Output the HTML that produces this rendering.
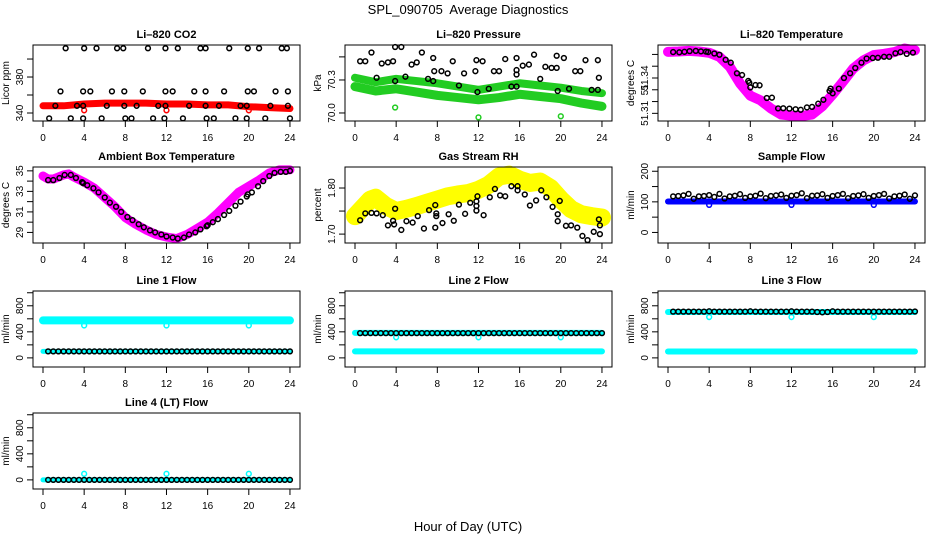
<!DOCTYPE html>
<html><head><meta charset="utf-8"><style>
html,body{margin:0;padding:0;background:#fff;}
svg text{font-family:"Liberation Sans",sans-serif;}
</style></head><body>
<svg id="chart" xmlns="http://www.w3.org/2000/svg" width="936" height="540" viewBox="0 0 936 540">
<rect x="0" y="0" width="936" height="540" fill="#fff"/>
<text x="468" y="14" font-size="13" text-anchor="middle">SPL_090705&#160; Average Diagnostics</text>
<text x="468" y="531" font-size="13" text-anchor="middle">Hour of Day (UTC)</text>
</svg>
<script>
// ---------- data ----------
const xTicks=[0,4,8,12,16,20,24];
const HRS=[0.5,1,1.5,2,2.5,3,3.5,4,4.5,5,5.5,6,6.5,7,7.5,8,8.5,9,9.5,10,10.5,11,11.5,12,12.5,13,13.5,14,14.5,15,15.5,16,16.5,17,17.5,18,18.5,19,19.5,20,20.5,21,21.5,22,22.5,23,23.5,24];
const OUT_H=[4,12,20];

const co2BandH=[0,2,4,6,8,10,12,14,16,18,20,22,24];
const co2BandV=[348,348,350,351,351,351,350,350,349,349,347,346,345];
const co2PtH=[2.2,4.0,5.2,7.2,7.8,10.2,11.9,13.1,15.3,15.8,18.1,19.9,21.0,23.2,23.7,1.7,3.9,4.6,6.7,7.9,9.7,11.9,12.6,14.7,15.8,17.6,19.9,20.5,22.6,23.8,1.2,3.3,3.9,6.2,7.9,9.1,11.2,11.9,14.2,15.8,17.1,19.2,19.8,22.1,23.8,0.6,2.7,3.9,5.7,8.0,8.6,10.7,11.8,13.6,15.9,16.6,18.7,19.8,21.6,24.0];
const co2PtV=[412,412,412,412,412,412,412,412,412,412,412,412,412,412,412,364,364,364,364,364,364,364,364,364,364,364,364,364,364,364,348,348,348,348,348,348,348,348,348,348,348,348,348,348,348,334,334,334,334,334,334,334,334,334,334,334,334,334,334,334];
const co2OutV=[343,343,343];

const presBandH=[0,2,4,6,8,10,12,14,16,18,20,22,24];
const presUpV=[70.32,70.28,70.31,70.29,70.27,70.24,70.21,70.24,70.27,70.25,70.23,70.20,70.18];
const presLoV=[70.24,70.20,70.22,70.19,70.16,70.14,70.12,70.14,70.17,70.15,70.13,70.09,70.06];
const presGreenH=[3.9,12.0,20.0];
const presGreenV=[70.05,69.96,69.97];
const presPtH=[0.5,1.0,1.6,2.1,2.6,3.2,3.7,3.9,3.9,4.5,4.9,5.5,6.0,6.5,7.1,7.6,7.7,7.6,8.4,9.0,10.1,9.5,10.6,11.7,11.8,12.4,11.9,13.0,13.5,14.0,14.6,15.2,15.7,15.7,15.7,15.7,16.3,16.9,17.4,18.0,18.5,19.1,19.6,19.6,19.7,20.3,20.8,21.4,21.9,22.4,23.0,23.6,23.6,23.7];
const presPtV=[70.47,70.47,70.55,70.32,70.45,70.46,70.47,70.29,70.60,70.60,70.33,70.44,70.46,70.55,70.31,70.50,70.38,70.29,70.38,70.36,70.25,70.47,70.36,70.38,70.48,70.47,70.19,70.22,70.38,70.38,70.49,70.24,70.24,70.50,70.39,70.35,70.43,70.44,70.53,70.31,70.42,70.41,70.41,70.52,70.20,70.50,70.22,70.38,70.38,70.48,70.21,70.21,70.48,70.32];

const t820H=[0,1,2,3,4,5,6,7,8,9,10,11,12,13,14,15,16,17,18,19,20,21,22,23,24];
const t820V=[51.3622,51.3625,51.3630,51.3625,51.3614,51.3580,51.3495,51.3354,51.3250,51.3210,51.3142,51.3090,51.3080,51.3078,51.3090,51.3160,51.3260,51.3368,51.3480,51.3550,51.3594,51.3605,51.3620,51.3650,51.3635];
const t820PtH=[0.5,1.1,1.6,2.1,2.7,3.2,3.7,3.9,4.5,5.0,5.6,6.1,6.7,7.2,7.8,7.9,8.0,8.5,8.9,9.6,10.1,10.7,11.2,11.8,12.4,12.9,13.5,14.0,14.6,15.1,15.7,15.8,16.0,16.6,17.1,17.7,18.2,18.8,19.3,19.9,20.4,21.0,21.5,22.1,22.6,23.2,23.8];
const t820PtV=[51.3620,51.3618,51.3622,51.3628,51.3630,51.3626,51.3624,51.3620,51.3608,51.3597,51.3555,51.3530,51.3440,51.3425,51.3375,51.3360,51.3320,51.3340,51.3338,51.3230,51.3233,51.3142,51.3143,51.3140,51.3135,51.3130,51.3150,51.3155,51.3182,51.3215,51.3290,51.3310,51.3270,51.3310,51.3400,51.3440,51.3485,51.3530,51.3565,51.3570,51.3572,51.3580,51.3580,51.3610,51.3620,51.3605,51.3615];

const ambH=[0,0.5,1,2,2.5,3,4,5,6,7,8,9,10,11,12,13,14,15,16,17,18,19,20,21,22,23,24];
const ambV=[34.5,34.2,34.2,34.6,34.7,34.4,33.9,33.3,32.4,31.5,30.45,29.8,29.25,28.8,28.55,28.4,28.8,29.4,30.0,30.9,31.9,32.9,33.5,34.1,34.8,35.1,35.1];
const ambPtH=[0.5,1.0,1.6,2.1,2.7,3.2,3.8,3.9,4.3,4.9,5.4,6.0,6.5,7.1,7.6,8.2,8.7,9.3,9.8,10.4,10.9,11.5,12.0,12.6,13.1,13.7,14.2,14.8,15.3,15.9,16.0,16.5,17.0,17.6,18.1,18.7,19.2,19.8,19.9,20.3,20.9,21.4,22.0,22.5,23.1,23.6,24.0];
const ambPtV=[34.1,34.1,34.3,34.6,34.6,34.3,33.9,33.8,33.6,33.3,32.9,32.4,31.9,31.5,31.0,30.5,30.2,29.8,29.5,29.2,29.0,28.8,28.6,28.5,28.4,28.5,28.8,29.0,29.3,29.6,29.7,30.0,30.3,30.7,31.1,31.6,32.0,32.5,32.7,32.9,33.5,34.0,34.5,34.8,34.9,34.9,35.0];

const rhH=[0,1.5,2,3,4,5,6,7,8,9,10,11,12,13,14,15,16,17,18,19,20,21,22,23,24];
const rhV=[1.739,1.775,1.779,1.761,1.75,1.755,1.761,1.768,1.775,1.782,1.786,1.789,1.796,1.807,1.825,1.829,1.818,1.811,1.814,1.80,1.775,1.754,1.743,1.739,1.736];
const rhPtH=[0.5,1.0,1.6,2.1,2.7,3.2,3.7,3.8,3.9,4.5,5.0,5.6,6.1,6.7,7.2,7.8,7.9,7.9,7.8,8.5,9.1,9.6,10.1,10.7,11.2,11.8,11.8,11.8,11.9,12.5,13.1,13.6,14.1,14.6,15.2,15.8,15.8,16.5,17.0,17.6,18.1,18.6,19.2,19.7,19.7,19.9,20.5,21.0,21.6,22.1,22.6,23.2,23.7,23.8,23.8];
const rhPtV=[1.730,1.745,1.746,1.745,1.741,1.719,1.729,1.721,1.755,1.709,1.728,1.725,1.739,1.712,1.752,1.763,1.745,1.739,1.714,1.724,1.743,1.729,1.764,1.744,1.768,1.771,1.761,1.751,1.782,1.741,1.780,1.798,1.784,1.782,1.804,1.804,1.795,1.786,1.762,1.773,1.795,1.780,1.759,1.743,1.728,1.772,1.718,1.719,1.714,1.696,1.687,1.705,1.732,1.719,1.700];

const sfBandH=[0,24];
const sfBandV=[101,101];
const sfOutV=[90,90,90];
const sfPtV=[118,119,121,126,110,118,119,122,116,126,111,118,
             120,125,113,118,120,127,112,119,121,124,113,120,
             122,128,112,120,121,125,113,119,122,126,112,119,
             121,125,113,119,122,126,111,118,120,124,110,121];

const flBandH=[0,24];
const l1UpV=[575,575];
const l1LoV=[100,100];
const l1PtV=[100,100,100,100,100,100,100,100,100,100,100,100,100,100,100,100,100,100,100,100,100,100,100,100,100,100,100,100,100,100,100,100,100,100,100,100,100,100,100,100,100,100,100,100,100,100,100,100];
const l1OutV=[498,498,498];
const l2UpV=[384,384];
const l2LoV=[100,100];
const l2PtV=[380,380,380,380,380,380,380,380,380,380,380,380,380,380,380,380,380,380,380,380,380,380,380,380,380,380,380,380,380,380,380,380,380,380,380,380,380,380,380,380,380,380,380,380,380,380,380,380];
const l2OutV=[316,316,316];
const l3UpV=[705,705];
const l3LoV=[98,98];
const l3PtV=[710,710,710,710,710,710,710,715,710,710,710,710,710,710,710,715,710,710,710,710,710,710,710,715,710,710,710,710,705,700,705,715,710,710,710,710,710,710,710,710,710,710,710,710,710,710,710,712];
const l3OutV=[627,627,627];
const l4BandV=[0,0];
const l4PtV=[0,0,0,0,0,0,0,0,0,0,0,0,0,0,0,0,0,0,0,0,0,0,0,0,0,0,0,0,0,0,0,0,0,0,0,0,0,0,0,0,0,0,0,0,0,0,0,0];
const l4OutV=[93,93,93];

// ---------- drawing ----------
const NS='http://www.w3.org/2000/svg';
const svg=document.getElementById('chart');
const COLS=[33,345,658], ROWS=[45,167,291,413], W=267, H=76;
function mk(tag,parent){const e=document.createElementNS(NS,tag);parent.appendChild(e);return e;}

function panel(name,col,row,title,ylab,dom,ticks,tlabels){
  const L=COLS[col],T=ROWS[row];
  const g=mk('g',svg);
  
  
  const xs=h=>L+10+h*10.29;
  const ys=v=>T+H-(v-dom[0])/(dom[1]-dom[0])*H;
  const t=mk('text',g);
  
  
  t.setAttribute('x',L+W/2);t.setAttribute('y',T-7);t.setAttribute('font-size','11');
  t.setAttribute('font-weight','bold');t.setAttribute('text-anchor','middle');t.textContent=title;
  const yl=mk('text',g);
  
  
  yl.setAttribute('font-size','10');yl.setAttribute('text-anchor','middle');
  yl.setAttribute('transform','translate('+(L-24)+','+(T+H/2)+') rotate(-90)');yl.textContent=ylab;
  const ax=mk('g',g);
  
  
  ax.setAttribute('stroke','#000');ax.setAttribute('stroke-width','1');
  for(const h of xTicks){const l=mk('line',ax);l.setAttribute('x1',xs(h));l.setAttribute('x2',xs(h));l.setAttribute('y1',T+H);l.setAttribute('y2',T+H+6);
    const tx=mk('text',g);
    
    
    tx.setAttribute('x',xs(h));tx.setAttribute('y',T+H+20);tx.setAttribute('font-size','10');tx.setAttribute('text-anchor','middle');tx.textContent=h;}
  ticks.forEach((v,i)=>{const l=mk('line',ax);l.setAttribute('x1',L-6);l.setAttribute('x2',L);l.setAttribute('y1',ys(v));l.setAttribute('y2',ys(v));
    if(tlabels[i]){const tx=mk('text',g);
      
      
      tx.setAttribute('font-size','10');tx.setAttribute('text-anchor','middle');
      tx.setAttribute('transform','translate('+(L-10)+','+ys(v)+') rotate(-90)');tx.textContent=tlabels[i];}});
  const clip=mk('g',g);
  const box=mk('rect',g);box.setAttribute('x',L);box.setAttribute('y',T);box.setAttribute('width',W);box.setAttribute('height',H);
  box.setAttribute('fill','none');box.setAttribute('stroke','#000');
  return {g:clip,xs,ys};
}
function band(p,name,hs,vs,color,w){
  const pl=mk('polyline',p.g);
  
  
  pl.setAttribute('points',hs.map((h,i)=>p.xs(h)+','+p.ys(vs[i])).join(' '));
  pl.setAttribute('fill','none');pl.setAttribute('stroke',color);pl.setAttribute('stroke-width',w);
  pl.setAttribute('stroke-linejoin','round');pl.setAttribute('stroke-linecap','round');
}
function pts(p,name,hs,vs,color){
  const gg=mk('g',p.g);
  
  
  hs.forEach((h,i)=>{const c=mk('circle',gg);
    
    
    c.setAttribute('cx',p.xs(h));c.setAttribute('cy',p.ys(vs[i]));c.setAttribute('r',2.4);
    c.setAttribute('fill','none');c.setAttribute('stroke',color);c.setAttribute('stroke-width',1.5);});
}
const flowTicks=[0,200,400,600,800,1000], flowLab=['0','','400','','800',''], flowDom=[-140,1027];

let p=panel('co2-panel',0,0,'Li\u2013820 CO2','Licor ppm',[331.1,415.6],[340,360,380,400],['340','','380','']);
band(p,'co2-band',co2BandH,co2BandV,'#ff0000',7); pts(p,'co2-outliers',OUT_H,co2OutV,'#ff0000'); pts(p,'co2-averages',co2PtH,co2PtV,'#000');

p=panel('pressure-panel',1,0,'Li\u2013820 Pressure','kPa',[69.927,70.618],[70.0,70.3,70.51],['70.0','70.3','']);
band(p,'pressure-band-upper',presBandH,presUpV,'#22cc22',8); band(p,'pressure-band-lower',presBandH,presLoV,'#22cc22',9);
pts(p,'pressure-green-outliers',presGreenH,presGreenV,'#22cc22'); pts(p,'pressure-averages',presPtH,presPtV,'#000');

p=panel('li820-temp-panel',2,0,'Li\u2013820 Temperature','degrees C',[51.3035,51.368],[51.31,51.32,51.33,51.34,51.35,51.36],['51.31','','51','51.34','','']);
band(p,'li820-temp-band',t820H,t820V,'#ff00ff',10); pts(p,'li820-temp-averages',t820PtH,t820PtV,'#000');

p=panel('ambient-temp-panel',0,1,'Ambient Box Temperature','degrees C',[27.97,35.375],[29,30,31,32,33,34,35],['29','','31','','33','','35']);
band(p,'ambient-temp-band',ambH,ambV,'#ff00ff',9); pts(p,'ambient-temp-averages',ambPtH,ambPtV,'#000');

p=panel('rh-panel',1,1,'Gas Stream RH','percent',[1.6807,1.8456],[1.70,1.75,1.80],['1.70','','1.80']);
band(p,'rh-band',rhH,rhV,'#ffff00',18); pts(p,'rh-averages',rhPtH,rhPtV,'#000');

p=panel('sample-flow-panel',2,1,'Sample Flow','ml/min',[-34.5,213.9],[0,50,100,150,200],['0','','100','','200']);
band(p,'sample-flow-band',sfBandH,sfBandV,'#0000ff',6); pts(p,'sample-flow-outliers',OUT_H,sfOutV,'#0000ff'); pts(p,'sample-flow-averages',HRS,sfPtV,'#000');

p=panel('line1-flow-panel',0,2,'Line 1 Flow','ml/min',flowDom,flowTicks,flowLab);
band(p,'line1-band-upper',flBandH,l1UpV,'#00ffff',8); band(p,'line1-band-lower',flBandH,l1LoV,'#00ffff',5);
pts(p,'line1-outliers',OUT_H,l1OutV,'#00ffff'); pts(p,'line1-averages',HRS,l1PtV,'#000');

p=panel('line2-flow-panel',1,2,'Line 2 Flow','ml/min',flowDom,flowTicks,flowLab);
band(p,'line2-band-upper',flBandH,l2UpV,'#00ffff',6); band(p,'line2-band-lower',flBandH,l2LoV,'#00ffff',6);
pts(p,'line2-outliers',OUT_H,l2OutV,'#00ffff'); pts(p,'line2-averages',HRS,l2PtV,'#000');

p=panel('line3-flow-panel',2,2,'Line 3 Flow','ml/min',flowDom,flowTicks,flowLab);
band(p,'line3-band-upper',flBandH,l3UpV,'#00ffff',6); band(p,'line3-band-lower',flBandH,l3LoV,'#00ffff',6);
pts(p,'line3-outliers',OUT_H,l3OutV,'#00ffff'); pts(p,'line3-averages',HRS,l3PtV,'#000');

p=panel('line4-flow-panel',0,3,'Line 4 (LT) Flow','ml/min',flowDom,flowTicks,flowLab);
band(p,'line4-band',flBandH,l4BandV,'#00ffff',5);
pts(p,'line4-outliers',OUT_H,l4OutV,'#00ffff'); pts(p,'line4-averages',HRS,l4PtV,'#000');
</script>
</body></html>
